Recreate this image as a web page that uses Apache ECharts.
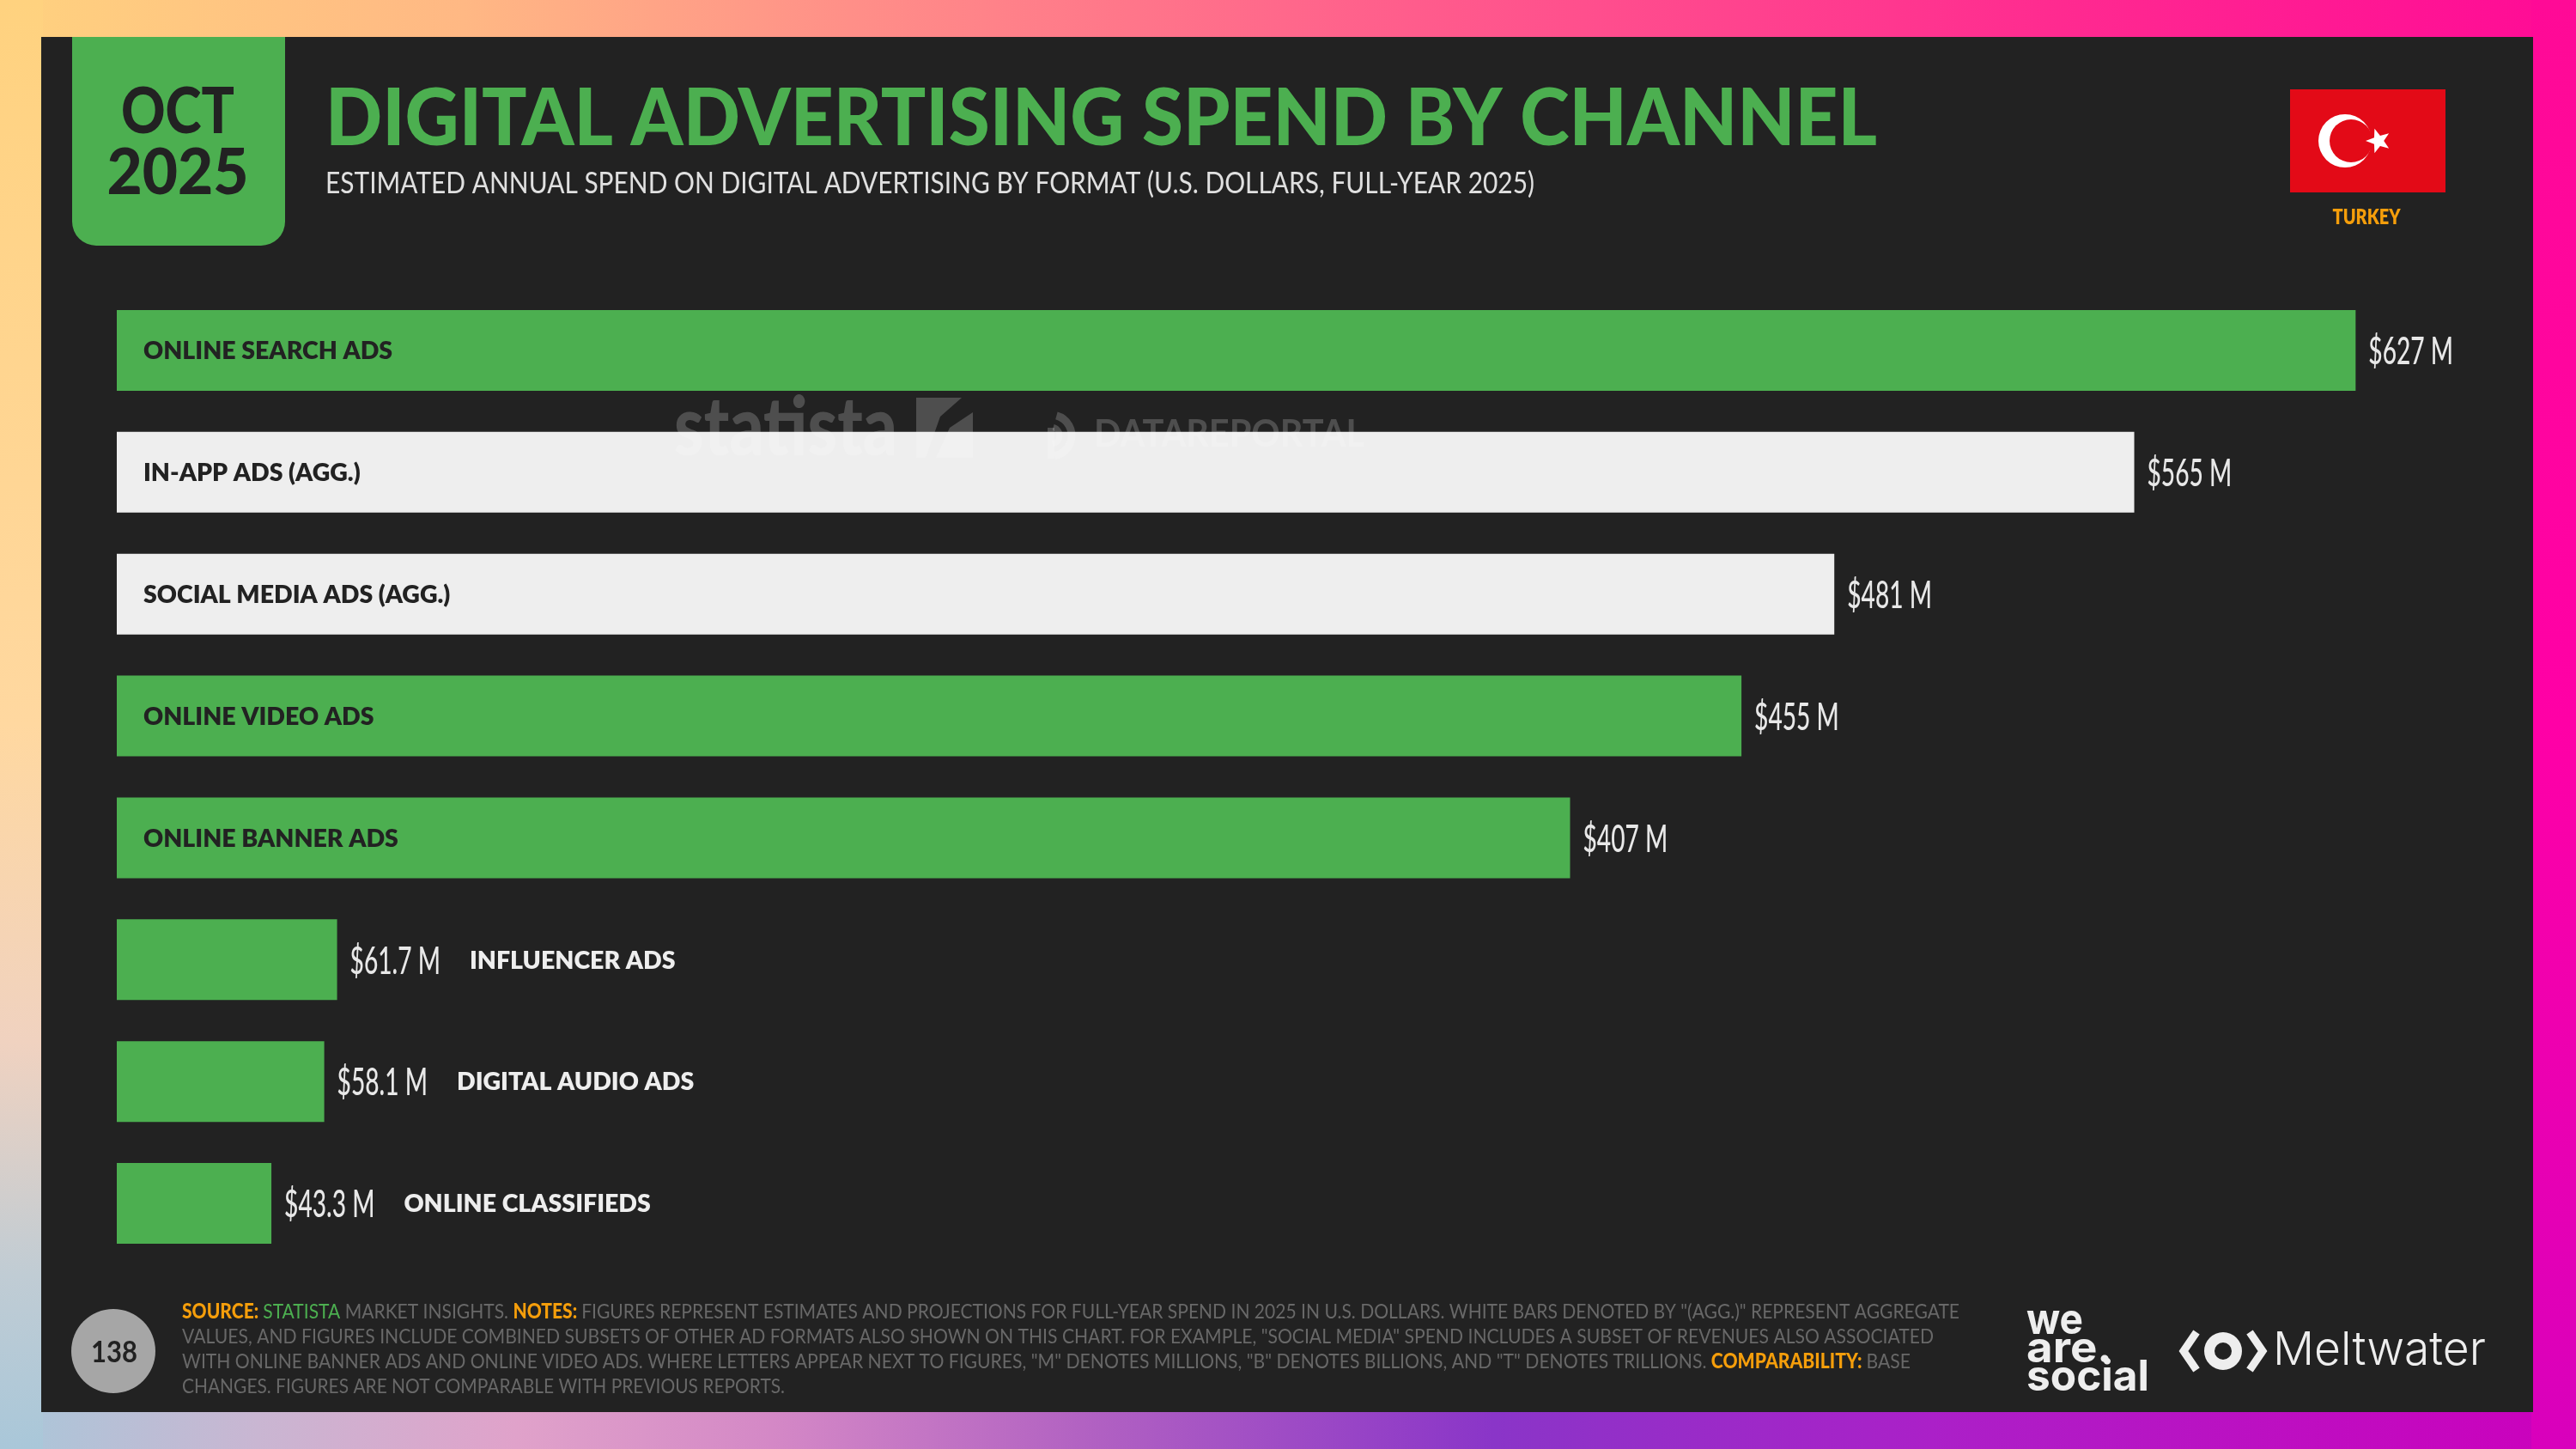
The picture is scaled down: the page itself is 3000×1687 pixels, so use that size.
<!DOCTYPE html>
<html><head><meta charset="utf-8">
<style>html,body{margin:0;padding:0;background:#222}#c{width:3000px;height:1687px}</style>
<script src="https://cdn.jsdelivr.net/npm/echarts@6/dist/echarts.min.js"></script>
</head><body><div id="c"></div>
<script>
const categories = ['ONLINE SEARCH ADS','IN-APP ADS (AGG.)','SOCIAL MEDIA ADS (AGG.)','ONLINE VIDEO ADS','ONLINE BANNER ADS','INFLUENCER ADS','DIGITAL AUDIO ADS','ONLINE CLASSIFIEDS'];
const spendMillions = [627,565,481,455,407,61.7,58.1,43.3];
const aggregateFlags = [false,true,true,false,false,false,false,false];
const nameOutsideFlags = [false,false,false,false,false,true,true,true];

const GREEN='#4caf50', WHITE='#eeeeee', PANEL='#222222', ORANGE='#f59e0b', NOTE='#686868';
const SANS='Lato, "Noto Sans", sans-serif';

const mctx=document.createElement('canvas').getContext('2d');
function measure(s,font){mctx.font=font;return mctx.measureText(s).width;}
function txt(s,x,y,font,fill,target,align,z){
  const w=measure(s,font), sx=target?target/w:1;
  return {type:'text',x,y,scaleX:sx,z:z||1,silent:true,style:{text:s,x:0,y:0,font,fill,textAlign:align||'left',textVerticalAlign:'middle'}};
}
function noteLine(segs,x,y,target){
  const ws=segs.map(s=>measure(s[0],s[1]));const sx=target/ws.reduce((a,b)=>a+b,0);
  let cx=x;return segs.map((s,i)=>{const e={type:'text',x:cx,y,scaleX:sx,z:1,silent:true,style:{text:s[0],x:0,y:0,font:s[1],fill:s[2],textAlign:'left',textVerticalAlign:'middle'}};cx+=ws[i]*sx;return e;});
}
function star(cx,cy,R,r,rot){const p=[];for(let i=0;i<10;i++){const a=rot+i*Math.PI/5,q=i%2?r:R;p.push([cx+q*Math.cos(a),cy+q*Math.sin(a)]);}return p;}
function grad(x0,y0,x1,y1,stops){return {type:'linear',x:x0,y:y0,x2:x1,y2:y1,global:false,colorStops:stops.map(s=>({offset:s[0],color:s[1]}))};}
function rect(x,y,w,h,fill,r,z){return {type:'rect',z:z||0,silent:true,shape:{x,y,width:w,height:h,r:r||0},style:{fill}};}

const nB='400 24px '+SANS, nO='900 24px '+SANS;
const notes=[
 [['SOURCE: ',nO,ORANGE],['STATISTA',nB,GREEN],[' MARKET INSIGHTS. ',nB,NOTE],['NOTES: ',nO,ORANGE],['FIGURES REPRESENT ESTIMATES AND PROJECTIONS FOR FULL-YEAR SPEND IN 2025 IN U.S. DOLLARS. WHITE BARS DENOTED BY "(AGG.)" REPRESENT AGGREGATE',nB,NOTE]],
 [['VALUES, AND FIGURES INCLUDE COMBINED SUBSETS OF OTHER AD FORMATS ALSO SHOWN ON THIS CHART. FOR EXAMPLE, "SOCIAL MEDIA" SPEND INCLUDES A SUBSET OF REVENUES ALSO ASSOCIATED',nB,NOTE]],
 [['WITH ONLINE BANNER ADS AND ONLINE VIDEO ADS. WHERE LETTERS APPEAR NEXT TO FIGURES, "M" DENOTES MILLIONS, "B" DENOTES BILLIONS, AND "T" DENOTES TRILLIONS. ',nB,NOTE],['COMPARABILITY: ',nO,ORANGE],['BASE',nB,NOTE]],
 [['CHANGES. FIGURES ARE NOT COMPARABLE WITH PREVIOUS REPORTS.',nB,NOTE]]
];
const noteWidths=[2070,2040,2013,702], noteY=[1527,1556,1585,1614];

const WM='rgba(255,255,255,0.2)';
const graphics=[
 {type:'rect',z:0,silent:true,shape:{x:0,y:0,width:3000,height:50},style:{fill:grad(0,0,1,0,[[0,'#ffd27f'],[.18,'#ffb884'],[.33,'#ff8f88'],[.55,'#ff5c8c'],[.8,'#ff2a90'],[1,'#ff0a96']])}},
 {type:'rect',z:0,silent:true,shape:{x:0,y:1640,width:3000,height:47},style:{fill:grad(0,0,1,0,[[0,'#a9c7d9'],[.1,'#c9b6d2'],[.2,'#e0a2ca'],[.3,'#d488c6'],[.42,'#b262c2'],[.58,'#8a35c8'],[.75,'#ab20c8'],[1,'#cc00bc']])}},
 {type:'rect',z:0,silent:true,shape:{x:0,y:0,width:50,height:1687},style:{fill:grad(0,0,0,1,[[0,'#ffd27f'],[.5,'#ffd8a0'],[.72,'#f0d2c0'],[.88,'#c0ccd4'],[1,'#a9c7d9']])}},
 {type:'rect',z:0,silent:true,shape:{x:2948,y:0,width:52,height:1687},style:{fill:grad(0,0,0,1,[[0,'#ff0a96'],[.5,'#ff00a6'],[1,'#d800bc']])}},
 rect(48,43,2902,1601,PANEL),
 rect(84,43,248,243,GREEN,[0,0,28,28]),
 txt('OCT',207,131,'900 74px '+SANS,PANEL,132,'center'),
 txt('2025',207,202,'900 74px '+SANS,PANEL,165,'center'),
 txt('DIGITAL ADVERTISING SPEND BY CHANNEL',379,139,'900 92px '+SANS,GREEN,1807),
 txt('ESTIMATED ANNUAL SPEND ON DIGITAL ADVERTISING BY FORMAT (U.S. DOLLARS, FULL-YEAR 2025)',379,214,'400 35px '+SANS,'#e0e0e0',1408),
 rect(2667,104,181,120,'#e30a17'),
 {type:'circle',z:1,silent:true,shape:{cx:2731,cy:164,r:31},style:{fill:'#ffffff'}},
 {type:'circle',z:1,silent:true,shape:{cx:2738,cy:164,r:25},style:{fill:'#e30a17'}},
 {type:'polygon',z:1,silent:true,shape:{points:star(2770,164,15,6.2,Math.PI)},style:{fill:'#ffffff'}},
 txt('TURKEY',2756,253,'800 24px '+SANS,ORANGE,79,'center'),
 txt('statista',785,499,'900 96px '+SANS,WM,260,'left',10),
 {type:'polygon',z:10,silent:true,shape:{points:[[1067,463],[1120,463],[1095,485],[1078,533],[1067,533]]},style:{fill:WM}},
 {type:'polygon',z:10,silent:true,shape:{points:[[1133,480],[1133,533],[1090,533],[1106,498]]},style:{fill:WM}},
 {type:'arc',z:10,silent:true,shape:{cx:1224,cy:507,r:24,startAngle:-1.3,endAngle:1.4},style:{stroke:WM,lineWidth:9,fill:'none'}},
 {type:'arc',z:10,silent:true,shape:{cx:1224,cy:507,r:10,startAngle:-1.3,endAngle:1.4},style:{stroke:WM,lineWidth:7,fill:'none'}},
 {type:'line',z:10,silent:true,shape:{x1:1224,y1:498,x2:1224,y2:534},style:{stroke:WM,lineWidth:8}},
 txt('DATAREPORTAL',1274,506,'700 44px '+SANS,WM,315,'left',10),
 {type:'circle',z:1,silent:true,shape:{cx:132,cy:1573,r:49},style:{fill:'#a6a6a6'}},
 txt('138',133,1575,'700 34px '+SANS,PANEL,54,'center'),
 txt('we',2360,1538,'700 50px Inter, '+SANS,'#eeeeee',66),
 txt('are.',2360,1571,'700 50px Inter, '+SANS,'#eeeeee',100),
 txt('social',2360,1604,'700 50px Inter, '+SANS,'#eeeeee',143),
 {type:'ring',z:1,silent:true,shape:{cx:2589,cy:1573,r:22,r0:10},style:{fill:'#eeeeee'}},
 {type:'polyline',z:1,silent:true,shape:{points:[[2558,1551],[2543,1573],[2558,1595]]},style:{stroke:'#eeeeee',lineWidth:9,fill:'none'}},
 {type:'polyline',z:1,silent:true,shape:{points:[[2620,1551],[2635,1573],[2620,1595]]},style:{stroke:'#eeeeee',lineWidth:9,fill:'none'}},
 txt('Meltwater',2647,1573,'300 54px Inter, '+SANS,'#eeeeee',248),
];
notes.forEach((segs,i)=>graphics.push(...noteLine(segs,212,noteY[i],noteWidths[i])));

const fmt=v=>'$'+v+' M';
const VALUE_FONT='500 44px '+SANS, VALUE_SX=0.64, NAME_FONT='800 28.5px '+SANS;

function renderLabels(params,api){
  const i=api.value(1), v=api.value(0), p=api.coord([v,i]), base=api.coord([0,i]);
  const children=[];
  const vx=p[0]+15, s=fmt(v);
  children.push({type:'text',x:vx,y:p[1]+2,scaleX:VALUE_SX,style:{text:s,font:VALUE_FONT,fill:'#e8e8e8',textAlign:'left',textVerticalAlign:'middle'}});
  const name=categories[i];
  if(nameOutsideFlags[i]){
    children.push({type:'text',x:vx+measure(s,VALUE_FONT)*VALUE_SX+34,y:p[1]+1,style:{text:name,font:NAME_FONT,fill:'#eeeeee',textAlign:'left',textVerticalAlign:'middle'}});
  }else{
    children.push({type:'text',x:base[0]+31,y:p[1]+1,style:{text:name,font:NAME_FONT,fill:PANEL,textAlign:'left',textVerticalAlign:'middle'}});
  }
  return {type:'group',children};
}

const chart=echarts.init(document.getElementById('c'),null,{renderer:'canvas',width:3000,height:1687});
chart.setOption({
  animation:false,
  backgroundColor:PANEL,
  graphic:graphics,
  grid:{left:136,top:337,width:2703,height:1135},
  xAxis:{type:'value',min:0,max:650,show:false},
  yAxis:{type:'category',inverse:true,data:categories,show:false},
  series:[
    {type:'bar',name:'Spend',barWidth:94,
     data:spendMillions.map((v,i)=>({value:v,itemStyle:{color:aggregateFlags[i]?WHITE:GREEN}}))},
    {type:'custom',name:'Labels',silent:true,clip:false,z:3,
     encode:{x:0,y:1},
     data:spendMillions.map((v,i)=>[v,i]),
     renderItem:renderLabels}
  ]
});
</script></body></html>
